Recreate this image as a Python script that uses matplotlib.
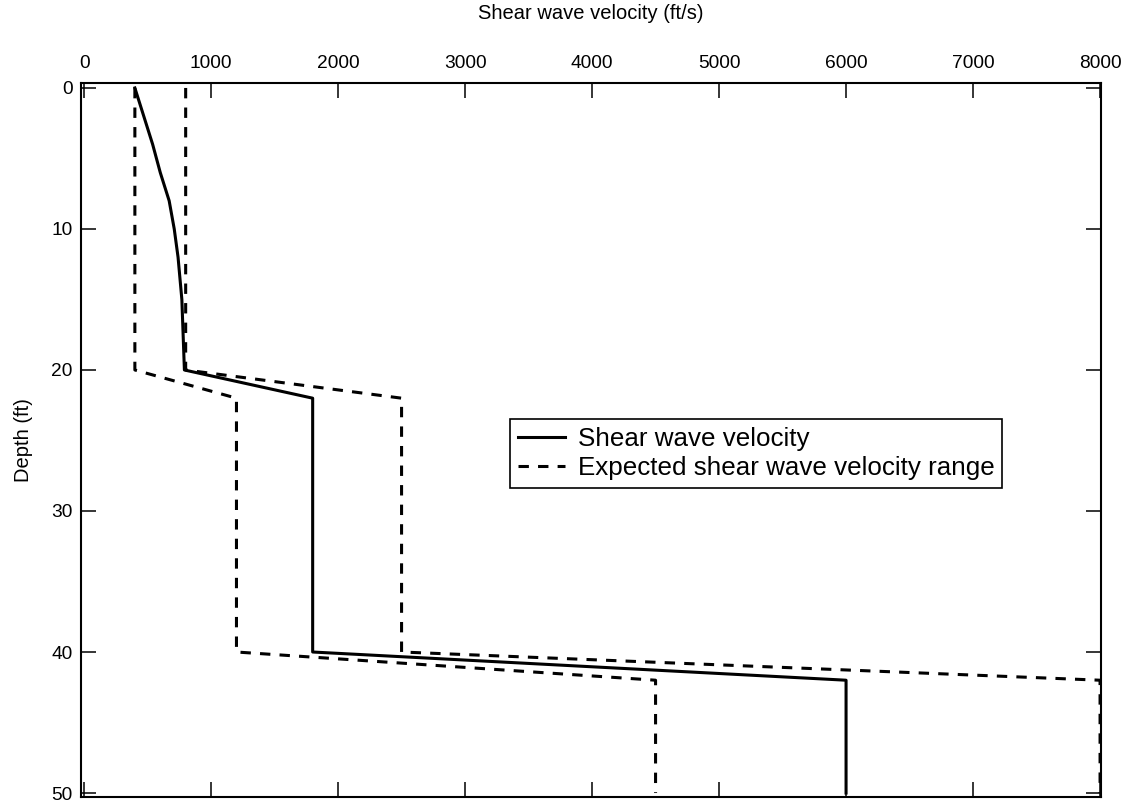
import matplotlib.pyplot as plt

plt.rcParams['font.family'] = ['Liberation Sans', 'DejaVu Sans']

# measured shear wave velocity profile
vs_depth = [0, 2, 4, 6, 8, 10, 12, 15, 20, 22, 40, 42, 50]
vs = [400, 470, 540, 600, 670, 710, 740, 770, 790, 1800, 1800, 6000, 6000]

# expected range, lower and upper bounds
rng_depth = [0, 20, 22, 40, 42, 50]
vs_low = [400, 400, 1200, 1200, 4500, 4500]
vs_high = [800, 800, 2500, 2500, 8000, 8000]

xticks = [0, 1000, 2000, 3000, 4000, 5000, 6000, 7000, 8000]
yticks = [0, 10, 20, 30, 40, 50]

fig = plt.figure(figsize=(11.3, 8.06), dpi=100)
ax = fig.add_axes([0.0717, 0.0112, 0.9027, 0.8858])

ax.plot(vs, vs_depth, color='black', lw=2.2, label='Shear wave velocity')
ax.plot(vs_low, rng_depth, color='black', lw=2.2, dashes=(3.4, 3.0),
        label='Expected shear wave velocity range')
ax.plot(vs_high, rng_depth, color='black', lw=2.2, dashes=(3.4, 3.0))

ax.set_xlim(-24, 8008)
ax.set_ylim(50.28, -0.35)
ax.set_xticks(xticks)
ax.set_yticks(yticks)
ax.xaxis.set_label_position('top')
ax.tick_params(axis='both', direction='in', length=11, width=1.1,
               top=True, bottom=True, left=True, right=True,
               labeltop=True, labelbottom=False, labelsize=13.8)
ax.tick_params(axis='x', pad=8)
ax.tick_params(axis='y', pad=6)
ax.set_xlabel('Shear wave velocity (ft/s)', fontsize=14.5, labelpad=26)
ax.set_ylabel('Depth (ft)', fontsize=14.5, labelpad=13)
for s in ax.spines.values():
    s.set_linewidth(1.5)

leg = ax.legend(loc='upper left', bbox_to_anchor=(0.4206, 0.529), fontsize=18.7,
                frameon=True, fancybox=False, framealpha=1, handlelength=1.8,
                borderpad=0.3, labelspacing=0.2, handletextpad=0.5,
                borderaxespad=0)
leg.get_frame().set_edgecolor('black')
leg.get_frame().set_linewidth(1.2)

fig.savefig('out.png', dpi=100)
